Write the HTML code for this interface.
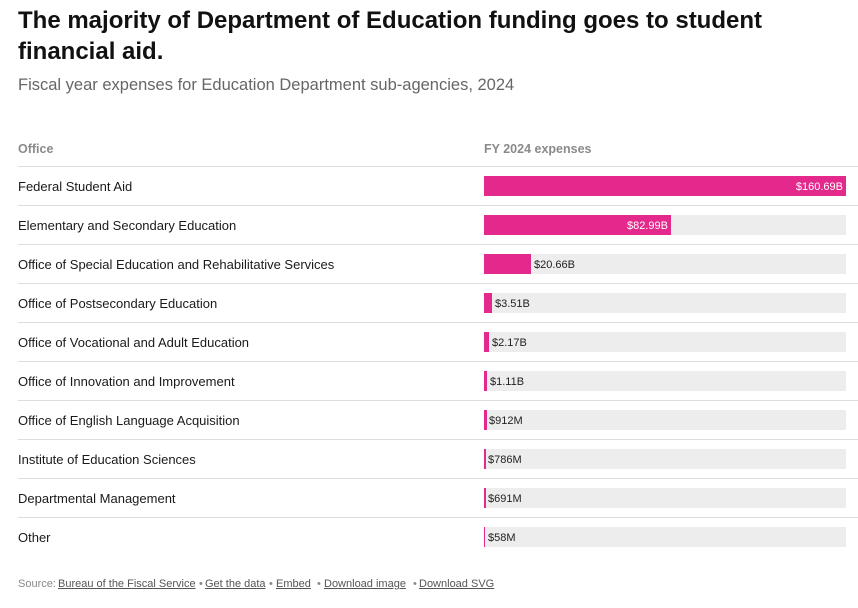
<!DOCTYPE html>
<html>
<head>
<meta charset="utf-8">
<style>
  html, body { margin:0; padding:0; background:#fff; }
  body { width:858px; height:608px; position:relative; overflow:hidden; font-family:"Liberation Sans", Arial, sans-serif; }
  .abs { position:absolute; white-space:nowrap; }
  .title { left:18px; top:5px; font-size:24px; line-height:31px; font-weight:bold; color:#111; }
  .sub { left:18px; top:75px; font-size:16.5px; line-height:20px; color:#666; }
  .hdr { top:141px; font-size:12.5px; line-height:16px; font-weight:bold; color:#8a8a8a; }
  .line { left:18px; width:840px; height:1px; background:#dedede; }
  .lab { left:18px; font-size:13px; line-height:38px; color:#1a1a1a; }
  .bg { left:484px; width:362px; height:20px; background:#ededed; }
  .bar { left:484px; height:20px; background:#e3298b; }
  .val { font-size:11px; line-height:22px; height:20px; color:#222; }
  .in { color:#fff; text-align:right; }
  .foot { top:576px; font-size:11px; line-height:16px; color:#888; }
  .foot u { color:#555; text-decoration:underline; }
</style>
</head>
<body>
<div class="abs title">The majority of Department of Education funding goes to student<br>financial aid.</div>
<div class="abs sub">Fiscal year expenses for Education Department sub-agencies, 2024</div>

<div class="abs hdr" style="left:18px;">Office</div>
<div class="abs hdr" style="left:484px;">FY 2024 expenses</div>

<!-- row lines -->
<div class="abs line" style="top:166px;"></div>
<div class="abs line" style="top:205px;"></div>
<div class="abs line" style="top:244px;"></div>
<div class="abs line" style="top:283px;"></div>
<div class="abs line" style="top:322px;"></div>
<div class="abs line" style="top:361px;"></div>
<div class="abs line" style="top:400px;"></div>
<div class="abs line" style="top:439px;"></div>
<div class="abs line" style="top:478px;"></div>
<div class="abs line" style="top:517px;"></div>

<!-- labels -->
<div class="abs lab" style="top:168px;">Federal Student Aid</div>
<div class="abs lab" style="top:207px;">Elementary and Secondary Education</div>
<div class="abs lab" style="top:246px;">Office of Special Education and Rehabilitative Services</div>
<div class="abs lab" style="top:285px;">Office of Postsecondary Education</div>
<div class="abs lab" style="top:324px;">Office of Vocational and Adult Education</div>
<div class="abs lab" style="top:363px;">Office of Innovation and Improvement</div>
<div class="abs lab" style="top:402px;">Office of English Language Acquisition</div>
<div class="abs lab" style="top:441px;">Institute of Education Sciences</div>
<div class="abs lab" style="top:480px;">Departmental Management</div>
<div class="abs lab" style="top:519px;">Other</div>

<!-- bar backgrounds -->
<div class="abs bg" style="top:176px;"></div>
<div class="abs bg" style="top:215px;"></div>
<div class="abs bg" style="top:254px;"></div>
<div class="abs bg" style="top:293px;"></div>
<div class="abs bg" style="top:332px;"></div>
<div class="abs bg" style="top:371px;"></div>
<div class="abs bg" style="top:410px;"></div>
<div class="abs bg" style="top:449px;"></div>
<div class="abs bg" style="top:488px;"></div>
<div class="abs bg" style="top:527px;"></div>

<!-- bars -->
<div class="abs bar" style="top:176px; width:362px;"></div>
<div class="abs bar" style="top:215px; width:187px;"></div>
<div class="abs bar" style="top:254px; width:47px;"></div>
<div class="abs bar" style="top:293px; width:8px;"></div>
<div class="abs bar" style="top:332px; width:5px;"></div>
<div class="abs bar" style="top:371px; width:3px;"></div>
<div class="abs bar" style="top:410px; width:3px;"></div>
<div class="abs bar" style="top:449px; width:2px;"></div>
<div class="abs bar" style="top:488px; width:2px;"></div>
<div class="abs bar" style="top:527px; width:1px;"></div>

<!-- values -->
<div class="abs val in" style="top:176px; left:484px; width:359px;">$160.69B</div>
<div class="abs val in" style="top:215px; left:484px; width:184px;">$82.99B</div>
<div class="abs val" style="top:254px; left:534px;">$20.66B</div>
<div class="abs val" style="top:293px; left:495px;">$3.51B</div>
<div class="abs val" style="top:332px; left:492px;">$2.17B</div>
<div class="abs val" style="top:371px; left:490px;">$1.11B</div>
<div class="abs val" style="top:410px; left:489px;">$912M</div>
<div class="abs val" style="top:449px; left:488px;">$786M</div>
<div class="abs val" style="top:488px; left:488px;">$691M</div>
<div class="abs val" style="top:527px; left:488px;">$58M</div>

<!-- footer -->
<div class="abs foot" style="left:18px;">Source:</div>
<div class="abs foot" style="left:58px;"><u>Bureau of the Fiscal Service</u></div>
<div class="abs foot" style="left:199px;">•</div>
<div class="abs foot" style="left:205px;"><u>Get the data</u></div>
<div class="abs foot" style="left:269px;">•</div>
<div class="abs foot" style="left:276px;"><u>Embed</u></div>
<div class="abs foot" style="left:317px;">•</div>
<div class="abs foot" style="left:324px;"><u>Download image</u></div>
<div class="abs foot" style="left:413px;">•</div>
<div class="abs foot" style="left:419px;"><u>Download SVG</u></div>
</body>
</html>
